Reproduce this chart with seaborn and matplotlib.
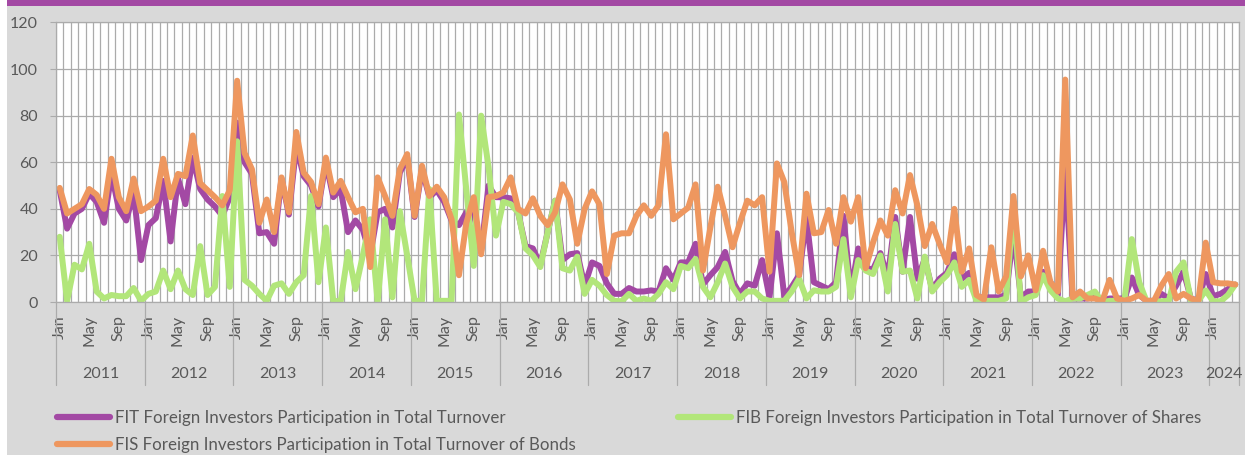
import numpy as np
import pandas as pd
import matplotlib
matplotlib.use("Agg")
import matplotlib.pyplot as plt
import matplotlib.transforms as mtrans
from matplotlib.lines import Line2D
from matplotlib.patches import Rectangle
import seaborn as sns

# ---------------- data ----------------
years = [2011, 2012, 2013, 2014, 2015, 2016, 2017, 2018, 2019, 2020, 2021, 2022, 2023, 2024]
months_per_year = [12] * 13 + [4]
month_names = ["Jan", "Feb", "Mar", "Apr", "May", "Jun", "Jul", "Aug", "Sep", "Oct", "Nov", "Dec"]
shown_months = ["Jan", "May", "Sep"]

series_names = [
    "FIT Foreign Investors Participation in Total Turnover",
    "FIB Foreign Investors Participation in Total Turnover of Shares",
    "FIS Foreign Investors Participation in Total Turnover of Bonds",
]

fit = [
    48, 31.5, 38, 40, 46.5, 43, 34, 55, 40, 35, 47, 18,
    33, 36, 52, 26, 53, 42, 62, 48.5, 44, 41, 37, 45,
    77, 60, 55, 29.5, 30, 25, 53, 37.5, 67, 54, 50, 41,
    60, 45, 48.5, 30, 35, 31, 20, 38.5, 40, 32, 55.5, 62,
    36.5, 57, 45, 48, 43, 35, 33, 38.5, 38, 22, 50, 45,
    45, 44.5, 38.5, 24, 23, 16, 30, 43.5, 18, 20.5, 21, 7,
    17, 15.5, 8, 3.5, 3.5, 6, 4.5, 4.5, 5, 4.5, 14.5, 9.5,
    17, 17, 25, 7.5, 11.5, 15, 21.5, 9, 3.5, 8, 7, 18,
    2, 29.5, 2.5, 6.5, 11.5, 36, 8.5, 7, 5.5, 8.5, 37, 4,
    23, 14.5, 14, 21, 10.5, 36.5, 13, 36.5, 10, 18.5, 5.5, 10,
    12.5, 20.5, 10, 12.5, 2, 2, 2, 2, 3, 30, 2, 4.5,
    4.5, 13, 8.5, 3, 57, 1.5, 1.5, 1.5, 2, 0.5, 1.5, 1.5,
    1.5, 10.5, 3, 0.5, 0.5, 3.5, 1.5, 7, 13, 1.5, 0.5, 12,
    2.5, 3.5, 5.5, 7.5,
]

fib = [
    28, 0.5, 16, 14, 25, 4.5, 1.5, 3, 2.5, 2.5, 6, 0.5,
    3.5, 4.5, 13.5, 5.5, 13.5, 5.5, 3, 24, 3, 6.5, 45.5, 6.5,
    69, 9.5, 7, 3.5, 0.5, 7, 8, 3.5, 8.5, 11.5, 45.5, 8.5,
    32, 0.5, 0.3, 21.5, 5.5, 20, 35.5, 0, 35.5, 2, 39, 20,
    0.5, 0.5, 48.5, 0.5, 0.5, 0.5, 80.5, 48, 15.5, 80, 58, 28.5,
    43, 42, 38.5, 23, 20, 15, 30, 43.5, 14.5, 13.5, 19.5, 3.5,
    9.5, 7, 3, 0.5, 0.3, 3.5, 0.5, 1.5, 0.5, 3.5, 8.5, 5.5,
    15.5, 14.5, 18.5, 6.5, 2, 8.5, 16.5, 6.5, 1.5, 4.5, 4.5, 1.5,
    0.5, 0.5, 0.5, 4.5, 10, 1.5, 5, 4.5, 4.5, 6.5, 27, 2,
    18, 13.5, 12, 20, 4.5, 33.5, 13, 13.5, 1.5, 19.5, 4.5, 8.5,
    11.5, 17, 6.5, 9.5, 0.5, 0.5, 0.5, 0.5, 1.5, 42, 0, 2,
    3, 11.5, 5, 1.5, 0.3, 1.5, 1.5, 3, 4.5, 0, 0.5, 0.5,
    0.5, 27, 8.5, 0.3, 0.3, 0.3, 0.5, 13, 17, 0.5, 0.5, 5,
    0.3, 0.3, 3, 7.5,
]

fis = [
    49, 38, 40, 42, 48.5, 46, 40, 61.5, 45, 39, 53, 39,
    41, 43.5, 61.5, 45, 55, 54, 71.5, 51, 48, 45, 41.5, 48,
    95, 64, 57, 34, 44, 30, 53.5, 38.5, 73, 55.5, 51.5, 42,
    62, 47, 52, 45, 38.5, 40, 15, 53.5, 45.5, 37, 57, 63.5,
    37, 58.5, 45.5, 49.5, 45, 35.5, 11.5, 34, 45, 20.5, 45, 45.5,
    47, 53.5, 40, 38, 44.5, 37, 33, 38.5, 50.5, 44, 25, 40,
    47.5, 42, 12, 28.5, 29.5, 29.5, 37, 41.5, 37, 41.5, 72, 35.5,
    38, 40.5, 50.5, 13.5, 32, 49.5, 37, 23.5, 34, 43.5, 41.5, 45,
    13, 59.5, 51.5, 30, 11.5, 46.5, 29.5, 30, 39.5, 25, 45, 34.5,
    45, 14.5, 25.5, 35, 28.5, 48, 38, 54.5, 41.5, 24, 33.5, 25,
    17, 40, 13, 23, 3, 1, 23.5, 4.5, 11, 45.5, 11, 20,
    5, 22, 8.5, 4.5, 95.5, 2, 4.5, 1.5, 1.5, 0.3, 9.5, 1.5,
    0.5, 1.5, 3, 0.5, 0.5, 7, 12, 1.5, 3.5, 1.5, 0.5, 25.5,
    8.5, 8, 8, 7.5,
]

colors = ["#A349A4", "#B2E67A", "#EE975F"]

# ---------------- build frame ----------------
cat_month, cat_year = [], []
for y, nm in zip(years, months_per_year):
    for m in range(nm):
        cat_month.append(month_names[m])
        cat_year.append(y)
n = len(cat_month)
idx = list(range(n))

df = pd.DataFrame({
    "idx": idx * 3,
    "value": fit + fib + fis,
    "series": [series_names[0]] * n + [series_names[1]] * n + [series_names[2]] * n,
})

# ---------------- style ----------------
sns.set_style("white")
plt.rcParams["font.family"] = ["Lato", "DejaVu Sans"]
txt_col = "#595959"
grid_col = "#ABABAB"
FS = 11.5
LFS = 12.2

W, H = 1245, 455
fig = plt.figure(figsize=(W / 100, H / 100), dpi=100, facecolor="white")
fig.patches.append(Rectangle((7 / W, 0), (W - 7) / W, (H - 6) / H, transform=fig.transFigure,
                             facecolor="#D9D9D9", edgecolor="none", zorder=-10))
fig.patches.append(Rectangle((7 / W, (H - 6) / H), (W - 7) / W, 6 / H, transform=fig.transFigure,
                             facecolor="#A349A4", edgecolor="none", zorder=-10))

left_px, right_px, top_px, bot_px = 56, 1239, 22.5, 302
ax = fig.add_axes([left_px / W, 1 - bot_px / H, (right_px - left_px) / W, (bot_px - top_px) / H])
ax.set_facecolor("white")

sns.lineplot(data=df, x="idx", y="value", hue="series", hue_order=series_names,
             palette=colors, linewidth=4.3, legend=False, ax=ax,
             solid_joinstyle="round", solid_capstyle="round")

ax.set_xlim(-0.5, n - 0.5)
ax.set_ylim(0, 120)
ax.set_yticks(np.arange(0, 121, 20))
ax.set_xlabel("")
ax.set_ylabel("")

# month labels
tick_pos = [i for i in idx if cat_month[i] in shown_months]
ax.set_xticks(tick_pos)
ax.set_xticklabels([cat_month[i] for i in tick_pos], rotation=90, va="top", ha="center")
ax.set_xticks(np.arange(-0.5, n, 1), minor=True)
ax.tick_params(axis="x", which="both", length=0, pad=9.5, labelsize=FS, labelcolor=txt_col)
ax.tick_params(axis="y", left=True, length=4.3, width=0.8, color=grid_col, pad=8.6,
               labelsize=FS, labelcolor=txt_col)

ax.set_axisbelow(True)
ax.grid(which="minor", axis="x", color=grid_col, lw=0.9)
ax.grid(which="major", axis="y", color=grid_col, lw=0.9)
ax.grid(which="major", axis="x", visible=False)
for s in ax.spines.values():
    s.set_color(grid_col)
    s.set_linewidth(0.9)

# year separators and labels
trans = mtrans.blended_transform_factory(ax.transData, ax.transAxes)
ax_h = bot_px - top_px
sep_bottom = -(385 - bot_px) / ax_h
year_y = -(374 - bot_px) / ax_h
start = 0
bounds = [-0.5]
for y, nm in zip(years, months_per_year):
    end = start + nm
    bounds.append(end - 0.5)
    ax.text((start + end - 1) / 2, year_y, str(y), transform=trans, ha="center", va="center",
            fontsize=FS, color=txt_col)
    start = end
for b in bounds:
    ax.add_line(Line2D([b, b], [0, sep_bottom], transform=trans, color=grid_col, lw=0.9,
                       clip_on=False))

# legends
def handle(c):
    return Line2D([0], [0], color=c, lw=4.5, solid_capstyle="round")

leg_kw = dict(frameon=False, fontsize=LFS, labelcolor=txt_col, handlelength=3.1,
              handletextpad=0.3, borderpad=0, borderaxespad=0, labelspacing=0.68)
fig.legend([handle(colors[0]), handle(colors[2])], [series_names[0], series_names[2]],
           loc="center left", bbox_to_anchor=(57 / W, 1 - 431.5 / H), **leg_kw)
fig.legend([handle(colors[1])], [series_names[1]],
           loc="center left", bbox_to_anchor=(678 / W, 1 - 418 / H), **leg_kw)

fig.savefig("out.png", dpi=100, facecolor=fig.get_facecolor())
